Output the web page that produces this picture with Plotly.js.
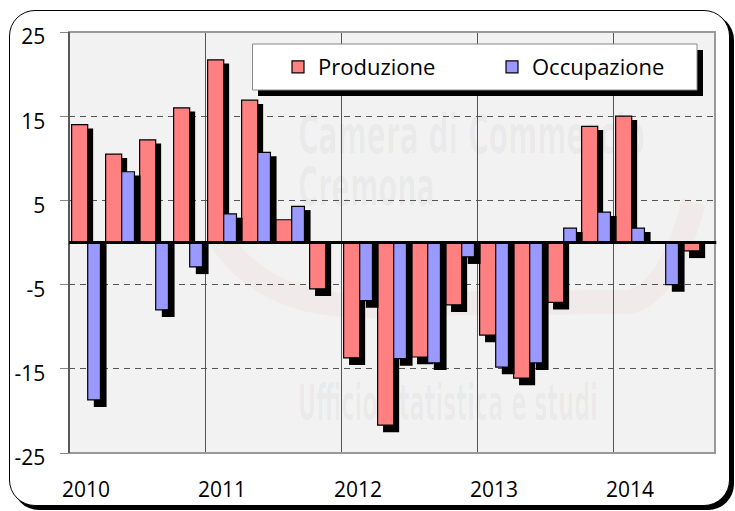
<!DOCTYPE html>
<html>
<head>
<meta charset="utf-8">
<script src="https://cdn.plot.ly/plotly-3.0.1.min.js"></script>
<style>
  html, body { margin:0; padding:0; background:#fff; }
  #frame { position:absolute; left:9px; top:10px; width:719px; height:494px;
           border:1.5px solid #000; border-radius:26px; box-shadow:4px 4px 0 #000; background:#fff; }
  #chart { position:absolute; left:0; top:0; width:735px; height:511px; }
</style>
</head>
<body>
<div id="frame"></div>
<div id="chart"></div>
<script>
// ---- data (quarterly % changes, 2010 Q1 – 2014 Q3) ----
const quarters = ['2010 T1','2010 T2','2010 T3','2010 T4',
                  '2011 T1','2011 T2','2011 T3','2011 T4',
                  '2012 T1','2012 T2','2012 T3','2012 T4',
                  '2013 T1','2013 T2','2013 T3','2013 T4',
                  '2014 T1','2014 T2','2014 T3'];
const produzione  = [14.0, 10.5, 12.2, 16.0, 21.7, 16.9, 2.7, -5.5, -13.7, -21.7, -13.6, -7.4, -11.0, -16.1, -7.1, 13.8, 15.0, null, -1.0];
const occupazione = [-18.7, 8.4, -8.0, -2.9, 3.4, 10.7, 4.3, null, -6.9, -13.8, -14.3, -1.7, -14.8, -14.3, 1.7, 3.6, 1.7, -5.0, null];
const yearTickLabels = ['2010','2011','2012','2013','2014'];
const yTickVals = [-25, -15, -5, 5, 15, 25];
const yTickText = ['-25', '-15', '-5', '5', '15', '25'];

// ---- derived positions ----
const xIdx = quarters.map((q, i) => i);
const yearTickVals = quarters.map((q, i) => i).filter(i => quarters[i].endsWith('T1'));

// shadow styling (offsets are style constants)
const SH_DX = 0.16, SH_UP = 0.45, SH_DN = 0.85;
const shadowOf = arr => arr.map(v => v == null ? null : (v > 0 ? v - SH_UP : v - SH_DN));

const RED = '#FF8080', BLUE = '#9999FF';
const redOff = -0.423, redW = 0.473, blueOff = 0.05, blueW = 0.375;

const traces = [
  { type:'bar', x:xIdx, y:shadowOf(produzione), offset:redOff + SH_DX, width:redW,
    marker:{color:'#000', line:{width:0}}, showlegend:false, hoverinfo:'skip' },
  { type:'bar', name:'Produzione', x:xIdx, y:produzione, offset:redOff, width:redW,
    marker:{color:RED, line:{color:'#000', width:1.2}}, legend:'legend' },
  { type:'bar', x:xIdx, y:shadowOf(occupazione), offset:blueOff + SH_DX + 0.02, width:blueW,
    marker:{color:'#000', line:{width:0}}, showlegend:false, hoverinfo:'skip' },
  { type:'bar', name:'Occupazione', x:xIdx, y:occupazione, offset:blueOff, width:blueW,
    marker:{color:BLUE, line:{color:'#000', width:1.2}}, legend:'legend2' }
];

// plot-area pixel helpers for legend box (layout only)
const L = 69, R = 20, T = 32, B = 58, W = 735, H = 511;
const pw = W - L - R, ph = H - T - B;
const px = v => (v - L) / pw, py = v => (H - B - v) / ph;

const wm = `<svg xmlns="http://www.w3.org/2000/svg" width="646" height="421" viewBox="0 0 646 421">
<path d="M150,205 Q200,285 330,272 L560,270 Q600,262 625,170" fill="none" stroke="rgba(225,120,120,0.06)" stroke-width="24"/>
<g font-family="Liberation Sans Narrow, DejaVu Sans Condensed, sans-serif" font-weight="bold" fill="rgba(0,0,0,0.035)">
<text x="229" y="121" font-size="54" textLength="347" lengthAdjust="spacingAndGlyphs">Camera di Commercio</text>
<text x="229" y="173" font-size="54" textLength="137" lengthAdjust="spacingAndGlyphs">Cremona</text>
<text x="229" y="388" font-size="50" textLength="300" lengthAdjust="spacingAndGlyphs">Ufficio statistica e studi</text>
</g></svg>`;

const layout = {
  width: W, height: H,
  margin: {l:L, r:R, t:T, b:B, pad:0},
  paper_bgcolor: 'rgba(0,0,0,0)',
  plot_bgcolor: '#F2F2F2',
  font: {family:'Open Sans, sans-serif', size:21, color:'#000'},
  barmode: 'overlay',
  xaxis: {
    range: [-0.5, quarters.length - 0.5],
    tickmode: 'array', tickvals: yearTickVals, ticktext: yearTickLabels,
    ticks: '', showgrid: false, zeroline: false, showline: false,
    ticklabelstandoff: 22,
    minor: {tickmode:'linear', tick0:-0.5, dtick:4, showgrid:true, gridcolor:'#555', gridwidth:1, ticks:''}
  },
  yaxis: {
    range: [-25, 25],
    tickmode: 'array', tickvals: yTickVals, ticktext: yTickText,
    ticks: 'outside', ticklen: 8, tickcolor: '#888', tickwidth: 1,
    ticklabelstandoff: 10, ticklabelshift: 5,
    showgrid: true, gridcolor: '#555', gridwidth: 1, griddash: '6px,5px',
    zeroline: false, showline: true, linecolor: '#444', linewidth: 1.5
  },
  images: [{source: 'data:image/svg+xml;charset=utf-8,' + encodeURIComponent(wm),
            xref:'paper', yref:'paper', x:0, y:1, sizex:1, sizey:1,
            xanchor:'left', yanchor:'top', sizing:'stretch', layer:'below'}],
  shapes: [
    // plot frame
    {type:'rect', xref:'paper', yref:'paper', x0:0, x1:1, y0:0, y1:1,
     line:{color:'#999', width:2}, fillcolor:'rgba(0,0,0,0)', layer:'above'},
    {type:'line', xref:'paper', yref:'paper', x0:0, x1:0, y0:0, y1:1,
     line:{color:'#444', width:1.5}, layer:'above'},
    // zero line
    {type:'line', xref:'paper', yref:'y', x0:0, x1:1.002, y0:0, y1:0,
     line:{color:'#000', width:3}, layer:'above'},
    // legend box shadow + box
    {type:'rect', xref:'paper', yref:'paper', x0:px(258), x1:px(703), y0:py(96), y1:py(50),
     line:{width:0}, fillcolor:'#000', layer:'above'},
    {type:'rect', xref:'paper', yref:'paper', x0:px(252.5), x1:px(697), y0:py(90), y1:py(44),
     line:{color:'#888', width:1}, fillcolor:'#fff', layer:'above'}
  ],
  legend: {x:px(278), y:py(67), xanchor:'left', yanchor:'middle', orientation:'h',
           bgcolor:'rgba(0,0,0,0)', borderwidth:0, font:{size:22, color:'#000'}},
  legend2: {x:px(492), y:py(67), xanchor:'left', yanchor:'middle', orientation:'h',
           bgcolor:'rgba(0,0,0,0)', borderwidth:0, font:{size:22, color:'#000'}},
  showlegend: true
};

Plotly.newPlot('chart', traces, layout, {displayModeBar:false, staticPlot:true});
</script>
</body>
</html>
